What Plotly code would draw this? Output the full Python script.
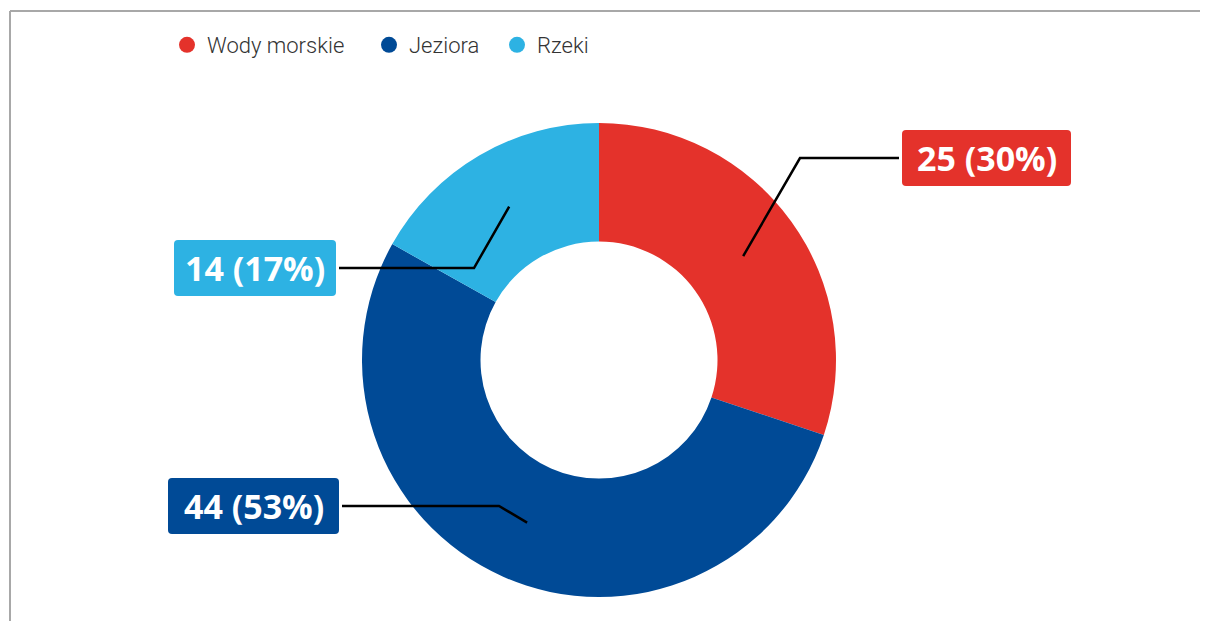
import math
import plotly.graph_objects as go

# ---- data ----
categories = ["Wody morskie", "Jeziora", "Rzeki"]
values = [25, 44, 14]
colors = ["#E4322B", "#004A96", "#2DB2E3"]

# ---- layout geometry (screen pixels) ----
W, H = 1208, 621
OFF = 8  # page body margin
cx, cy, R = 599, 360, 237
hole = 0.5
# label placement: (label centre y, elbow x, line end x, side, box w, box h)
label_pos = [
    (158, 800, 899, "right", 169, 56),
    (506, 499, 342, "left", 171, 56),
    (268, 474, 339, "left", 162, 56),
]
legend_x = [167, 369, 497]
legend_y = 24

total = sum(values)


def px(x):
    return (x - OFF) / W


def py(y):
    return 1 - (y - OFF) / H


def rounded_rect(x0, y0, x1, y1, r):
    pts = [
        f"M {px(x0 + r)} {py(y0)}",
        f"L {px(x1 - r)} {py(y0)}",
        f"Q {px(x1)} {py(y0)} {px(x1)} {py(y0 + r)}",
        f"L {px(x1)} {py(y1 - r)}",
        f"Q {px(x1)} {py(y1)} {px(x1 - r)} {py(y1)}",
        f"L {px(x0 + r)} {py(y1)}",
        f"Q {px(x0)} {py(y1)} {px(x0)} {py(y1 - r)}",
        f"L {px(x0)} {py(y0 + r)}",
        f"Q {px(x0)} {py(y0)} {px(x0 + r)} {py(y0)}",
        "Z",
    ]
    return " ".join(pts)


fig = go.Figure()
fig.add_trace(go.Pie(
    labels=categories, values=values, hole=hole, sort=False,
    direction="clockwise", rotation=0,
    marker=dict(colors=colors, line=dict(width=0)),
    textinfo="none", hoverinfo="label+value+percent", showlegend=False,
    domain=dict(x=[px(cx - R), px(cx + R)],
                y=[py(cy + R), py(cy - R)]),
))

# legend entries with circle markers (one legend per entry for exact spacing)
legend_names = ["legend", "legend2", "legend3"]
for name, col, lg in zip(categories, colors, legend_names):
    fig.add_trace(go.Scatter(x=[None], y=[None], mode="markers", name=name, legend=lg,
                             marker=dict(color=col, size=16, symbol="circle")))

shapes = [dict(type="line", xref="paper", yref="paper",
               x0=px(10), x1=1.05, y0=py(11), y1=py(11),
               line=dict(color="#A8A8A8", width=2)),
          dict(type="line", xref="paper", yref="paper",
               x0=px(10), x1=px(10), y0=py(11), y1=-0.05,
               line=dict(color="#A8A8A8", width=2))]
annotations = []
cum = 0
rmid = R * (1 + hole) / 2
for name, v, col, (ly, ex, lx, side, bw, bh) in zip(categories, values, colors, label_pos):
    mid = (cum + v / 2) / total * 2 * math.pi
    cum += v
    x0 = cx + rmid * math.sin(mid)
    y0 = cy - rmid * math.cos(mid)
    path = f"M {px(x0)} {py(y0)} L {px(ex)} {py(ly)} L {px(lx)} {py(ly)}"
    shapes.append(dict(type="path", xref="paper", yref="paper", path=path,
                       line=dict(color="#000000", width=2.5), layer="above"))
    if side == "right":
        bx0 = lx + 3
    else:
        bx0 = lx - 3 - bw
    shapes.append(dict(type="path", xref="paper", yref="paper",
                       path=rounded_rect(bx0, ly - bh / 2, bx0 + bw, ly + bh / 2, 4),
                       fillcolor=col, line=dict(width=0), layer="above"))
    pct = round(v / total * 100)
    annotations.append(dict(
        xref="paper", yref="paper",
        x=px(bx0 + bw / 2), y=py(ly),
        xanchor="center", yanchor="middle",
        text=f"<b>{v} ({pct}%)</b>", showarrow=False,
        font=dict(family="Open Sans", size=34, color="white"),
        borderpad=0, borderwidth=0,
    ))

legend_common = dict(orientation="h", xanchor="left", yanchor="top",
                     font=dict(family="Roboto", size=22, color="#333333", weight=300),
                     itemsizing="trace", bgcolor="rgba(0,0,0,0)")

fig.update_layout(
    width=W, height=H,
    margin=dict(l=0, r=0, t=0, b=0),
    paper_bgcolor="white", plot_bgcolor="rgba(0,0,0,0)",
    xaxis=dict(visible=False), yaxis=dict(visible=False),
    shapes=shapes, annotations=annotations,
    legend=dict(x=px(legend_x[0]), y=py(legend_y), **legend_common),
    legend2=dict(x=px(legend_x[1]), y=py(legend_y), **legend_common),
    legend3=dict(x=px(legend_x[2]), y=py(legend_y), **legend_common),
    showlegend=True,
)

fig.write_html("out.html")
